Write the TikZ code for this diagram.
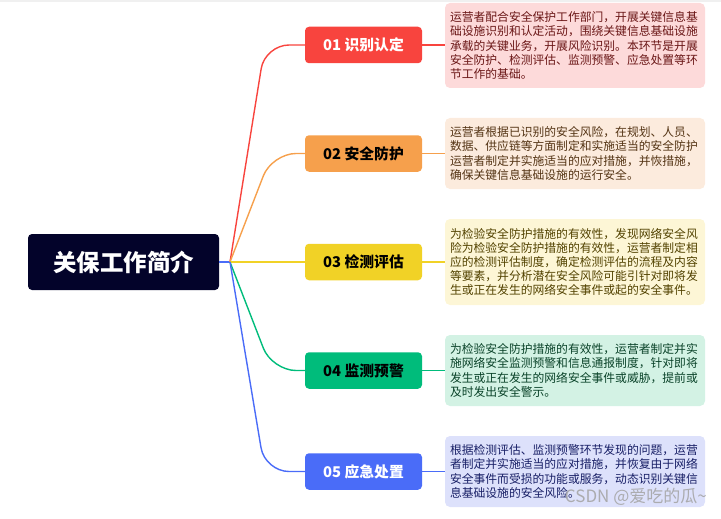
\documentclass[tikz,border=0pt]{standalone}
\usepackage{fontspec}
\setmainfont{Noto Sans CJK SC}
\usetikzlibrary{calc}
\definecolor{rootc}{HTML}{03032A}
\definecolor{c1}{HTML}{F8443E}
\definecolor{c2}{HTML}{F6A04C}
\definecolor{c3}{HTML}{F1D226}
\definecolor{c4}{HTML}{00BC7B}
\definecolor{c5}{HTML}{4A6CF8}
\definecolor{f1}{HTML}{FDDADA}
\definecolor{f2}{HTML}{FCEBDD}
\definecolor{f3}{HTML}{FDF6D6}
\definecolor{f4}{HTML}{D3F2E4}
\definecolor{f5}{HTML}{DDE1FB}
\definecolor{t1}{HTML}{6A1616}
\definecolor{t2}{HTML}{543414}
\definecolor{t3}{HTML}{524200}
\definecolor{t4}{HTML}{0A4329}
\definecolor{t5}{HTML}{181F66}
\tikzset{
  catbox/.style={rectangle, rounded corners=4pt, minimum width=117pt, minimum height=36.5pt, inner sep=0pt, font=\fontsize{14.8}{16}\selectfont\bfseries},
  descbox/.style={rectangle, rounded corners=5pt, minimum width=260pt, inner xsep=5pt, inner ysep=0pt, text width=250pt, align=left, font=\fontsize{11.8}{14.1}\selectfont},
  branch/.style={line width=1.4pt, rounded corners=24pt},
  link/.style={line width=1.4pt}
}
\begin{document}
\begin{tikzpicture}[x=1pt,y=-1pt]
\useasboundingbox (0,0) rectangle (721,519);
\fill[gray!12] (0,0) rectangle (721,2.5);
% root
\node[rectangle, rounded corners=4pt, fill=rootc, minimum width=191pt, minimum height=56pt, text=white, font=\fontsize{23.5}{26}\selectfont\bfseries] (root) at (123.5,262) {关保工作简介};
\coordinate (hub) at (230,262);
% categories
\node[catbox, fill=c1, text=white] (k1) at (363.5,45) {01 识别认定};
\node[catbox, fill=c2, text=black] (k2) at (363.5,153.5) {02 安全防护};
\node[catbox, fill=c3, text=black] (k3) at (363.5,262) {03 检测评估};
\node[catbox, fill=c4, text=black] (k4) at (363.5,370.5) {04 监测预警};
\node[catbox, fill=c5, text=white] (k5) at (363.5,471.5) {05 应急处置};
% descriptions
\node[descbox, fill=f1, text=t1, minimum height=85pt] (d1) at (575,45.5) {运营者配合安全保护工作部门，开展关键信息基\\础设施识别和认定活动，围绕关键信息基础设施\\承载的关键业务，开展风险识别。本环节是开展\\安全防护、检测评估、监测预警、应急处置等环\\节工作的基础。};
\node[descbox, fill=f2, text=t2, minimum height=71pt] (d2) at (575,153.5) {运营者根据已识别的安全风险，在规划、人员、\\数据、供应链等方面制定和实施适当的安全防护\\运营者制定并实施适当的应对措施，并恢措施，\\确保关键信息基础设施的运行安全。};
\node[descbox, fill=f3, text=t3, minimum height=86pt] (d3) at (575,262) {为检验安全防护措施的有效性，发现网络安全风\\险为检验安全防护措施的有效性，运营者制定相\\应的检测评估制度，确定检测评估的流程及内容\\等要素，并分析潜在安全风险可能引针对即将发\\生或正在发生的网络安全事件或起的安全事件。};
\node[descbox, fill=f4, text=t4, minimum height=71pt] (d4) at (575,370.5) {为检验安全防护措施的有效性，运营者制定并实\\施网络安全监测预警和信息通报制度，针对即将\\发生或正在发生的网络安全事件或威胁，提前或\\及时发出安全警示。};
\node[descbox, fill=f5, text=t5, minimum height=71pt] (d5) at (575,471.5) {根据检测评估、监测预警环节发现的问题，运营\\者制定并实施适当的应对措施，并恢复由于网络\\安全事件而受损的功能或服务，动态识别关键信\\息基础设施的安全风险。};
% branches
\draw[link, c5] (root.east) -- (hub);
\draw[branch, c1] (hub) -- (265,45) -- (k1.west);
\draw[branch, c2] (hub) -- (272,153.5) -- (k2.west);
\draw[link, c3] (hub) -- (k3.west);
\draw[branch, c4] (hub) -- (272,370.5) -- (k4.west);
\draw[branch, c5] (hub) -- (265,471.5) -- (k5.west);
% links to descriptions
\draw[link, c1] (k1.east) -- (k1.east -| d1.west);
\draw[link, c2] (k2.east) -- (k2.east -| d2.west);
\draw[link, c3] (k3.east) -- (k3.east -| d3.west);
\draw[link, c4] (k4.east) -- (k4.east -| d4.west);
\draw[link, c5] (k5.east) -- (k5.east -| d5.west);
% watermark
\node[text=gray!70, opacity=0.9, font=\fontsize{17}{18}\selectfont, anchor=east, inner sep=0pt] (wm) at (707,497) {CSDN @爱吃的瓜\textasciitilde};
\end{tikzpicture}
\end{document}
